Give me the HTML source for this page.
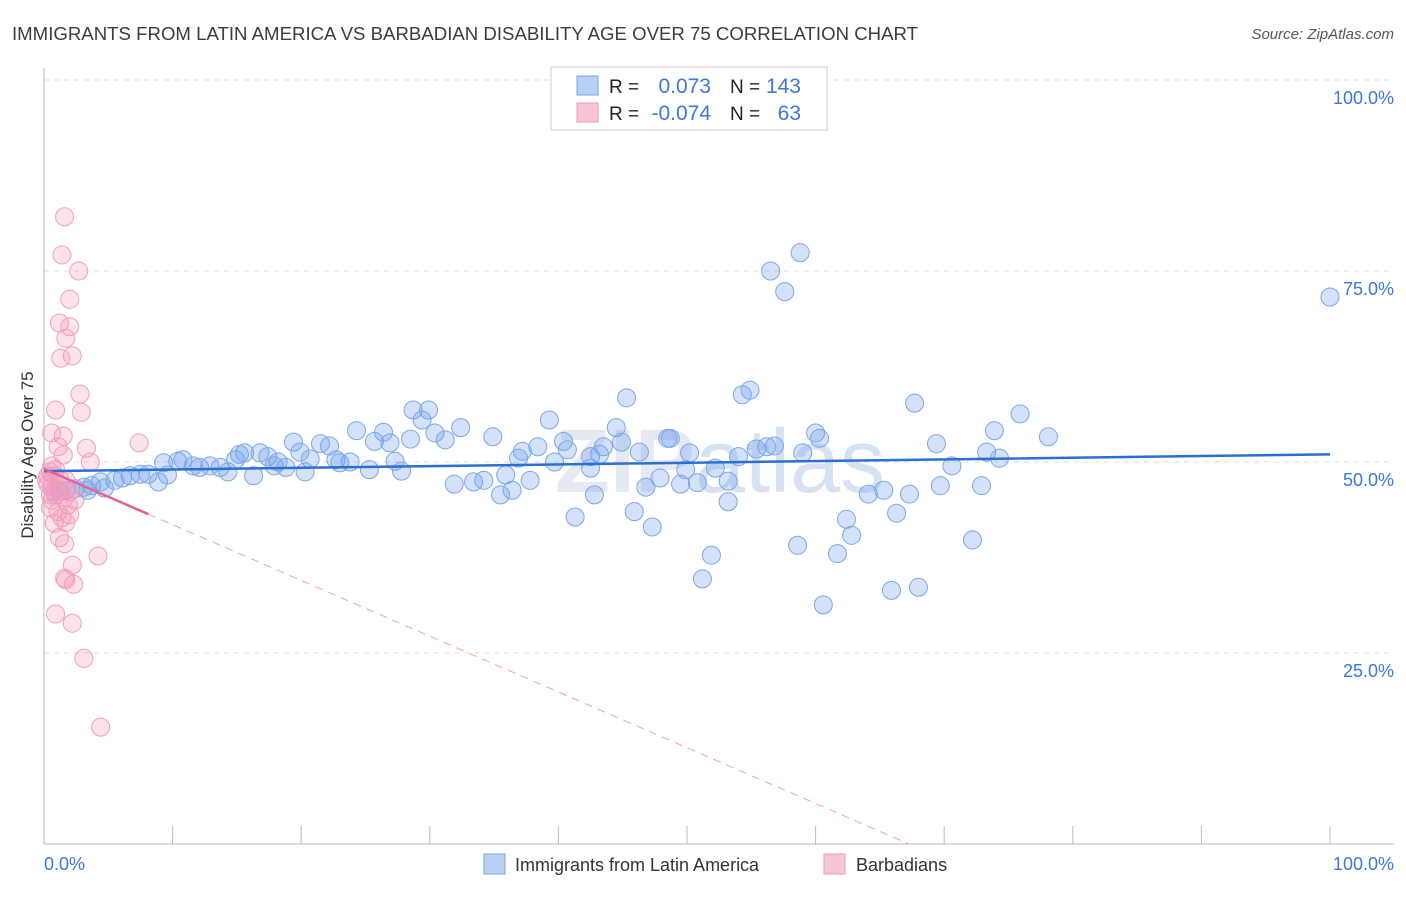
<!DOCTYPE html>
<html><head><meta charset="utf-8">
<style>
body{margin:0;background:#fff;font-family:"Liberation Sans",sans-serif;}
svg text{font-family:"Liberation Sans",sans-serif;}
</style></head>
<body>
<svg id="chart" width="1406" height="892" xmlns="http://www.w3.org/2000/svg">
<text x="12" y="40" font-size="18" fill="#3c3c3c" textLength="906" lengthAdjust="spacingAndGlyphs">IMMIGRANTS FROM LATIN AMERICA VS BARBADIAN DISABILITY AGE OVER 75 CORRELATION CHART</text>
<text x="1394" y="39" font-size="15" fill="#555" text-anchor="end" font-style="italic">Source: ZipAtlas.com</text>
<text x="720" y="492" font-size="90" fill="#e4e9f2" text-anchor="middle" font-weight="bold">ZIP<tspan font-weight="normal" fill="#d6e2f2">atlas</tspan></text>
<g id="grid"></g>
<g id="axes"></g>
<g id="pts"></g>
<g id="trends"></g>
<text transform="translate(33,455) rotate(-90)" font-size="17" fill="#333" text-anchor="middle">Disability Age Over 75</text>
<text x="44" y="870" font-size="18" fill="#3b78d8">0.0%</text>
<text x="1394" y="870" font-size="18" fill="#3b78d8" text-anchor="end">100.0%</text>
<g>
<rect x="551" y="67" width="276" height="63" fill="#fff" stroke="#ccc"/>
<rect x="577" y="76" width="21" height="19" fill="#b8d1f3" stroke="#7aa5e6"/>
<rect x="577" y="103" width="21" height="19" fill="#f7c5d4" stroke="#ee9ab4"/>
<text x="609" y="93" font-size="19" fill="#222">R =</text>
<text x="711" y="93" font-size="21" fill="#3b78d8" text-anchor="end">0.073</text>
<text x="730" y="93" font-size="19" fill="#222">N =</text>
<text x="801" y="93" font-size="21" fill="#3b78d8" text-anchor="end">143</text>
<text x="609" y="120" font-size="19" fill="#222">R =</text>
<text x="711" y="120" font-size="21" fill="#3b78d8" text-anchor="end">-0.074</text>
<text x="730" y="120" font-size="19" fill="#222">N =</text>
<text x="801" y="120" font-size="21" fill="#3b78d8" text-anchor="end">63</text>
</g>
<g>
<rect x="484" y="854" width="21" height="20" fill="#b8d1f3" stroke="#7aa5e6"/>
<text x="515" y="871" font-size="18" fill="#333">Immigrants from Latin America</text>
<rect x="824" y="854" width="21" height="20" fill="#f7c5d4" stroke="#ee9ab4"/>
<text x="856" y="871" font-size="18" fill="#333">Barbadians</text>
</g>
</svg>
<script>
const yTicks=[100,75,50,25];
const yTickLabels=["100.0%","75.0%","50.0%","25.0%"];
const xTicks=[0,10,20,30,40,50,60,70,80,90,100];
const blueX=[100,58.8,56.5,57.6,54.9,54.3,45.3,67.7,75.9,28.7,29.9,29.4,39.3,30.4,32.4,26.4,24.3,31.2,34.9,44.5,48.5,48.7,60.0,60.3,73.9,78.1,69.4,40.4,44.9,25.7,26.9,28.5,19.4,22.2,21.5,19.9,37.2,38.4,40.7,43.5,46.3,50.2,55.4,56.2,56.8,59.0,73.3,74.3,54.0,36.9,39.7,42.5,43.2,22.7,23.8,27.3,15.6,15.2,16.8,17.4,18.2,18.8,17.9,20.7,23.0,25.3,27.8,9.3,10.4,10.8,11.6,12.1,12.9,13.7,14.3,14.9,16.3,20.3,8.1,7.5,6.7,6.1,5.5,4.4,3.7,3.1,2.4,1.7,1.2,0.8,8.9,9.6,4.7,3.4,52.2,49.9,47.9,42.5,35.9,34.2,33.4,31.9,37.8,36.4,35.5,46.8,49.5,50.8,53.2,70.6,69.7,72.9,64.1,65.3,67.3,42.8,41.3,45.9,47.3,53.2,62.4,62.8,66.3,51.9,58.6,61.7,72.2,51.2,60.6,65.9,68.0];
const blueY=[71.6,77.4,75.0,72.3,59.4,58.8,58.4,57.7,56.3,56.8,56.8,55.5,55.5,53.8,54.5,53.9,54.1,52.9,53.3,54.5,53.1,53.1,53.8,53.1,54.1,53.3,52.4,52.7,52.6,52.7,52.5,53.0,52.6,52.1,52.4,51.3,51.4,52.0,51.6,52.0,51.3,51.2,51.7,52.0,52.1,51.2,51.3,50.5,50.7,50.5,50.0,50.7,51.0,50.3,50.0,50.1,51.2,51.0,51.2,50.7,50.0,49.3,49.5,50.4,49.9,49.0,48.8,49.9,50.1,50.3,49.5,49.3,49.5,49.3,48.7,50.3,48.2,48.7,48.4,48.4,48.2,47.9,47.6,47.4,46.9,46.7,46.5,46.3,46.2,46.1,47.4,48.3,46.6,46.3,49.2,49.0,47.9,49.2,48.3,47.6,47.4,47.1,47.6,46.3,45.7,46.7,47.1,47.3,47.5,49.5,46.9,46.9,45.8,46.3,45.8,45.7,42.8,43.5,41.5,44.8,42.5,40.4,43.3,37.8,39.1,38.0,39.8,34.7,31.3,33.2,33.6];
const pinkX=[1.6,1.4,2.7,2.0,1.2,2.0,1.7,2.2,1.3,2.8,0.9,2.9,0.6,1.5,7.4,1.1,3.3,1.5,3.6,0.6,0.9,0.5,0.8,1.2,1.7,0.3,0.6,1.1,1.4,2.0,0.9,2.4,1.9,0.5,1.1,2.0,1.4,0.8,1.7,1.2,1.6,4.2,2.2,2.3,1.6,1.7,0.9,2.2,3.1,4.4,0.3,0.5,1.6,0.6,0.2];
const pinkY=[82.1,77.1,75.0,71.3,68.2,67.7,66.2,63.9,63.6,58.9,56.8,56.5,53.8,53.4,52.5,52.0,51.8,50.9,50.0,49.5,49.0,48.7,48.2,47.9,47.6,47.1,46.7,46.5,46.2,46.1,45.7,45.0,44.4,44.0,43.5,43.1,42.7,42.0,42.1,40.1,39.3,37.7,36.5,34.0,34.8,34.6,30.1,28.9,24.3,15.3,48.2,45.7,45.3,45.0,47.6];
const blueTrend=[48.8,51.0];      // y at x=0 and x=100
const pinkTrend=[49.1,-0.73];     // intercept, slope
const pinkSolidEnd=8.1;
const pinkDashEnd=67.3;

const NS="http://www.w3.org/2000/svg";
const X0=44,X1=1330,Y0=844,Y100=80;
const sx=v=>X0+(X1-X0)*v/100;
const sy=v=>Y0-(Y0-Y100)*v/100;
function mk(tag,attrs,parent){const e=document.createElementNS(NS,tag);for(const k in attrs)e.setAttribute(k,attrs[k]);parent.appendChild(e);return e;}
const grid=document.getElementById('grid'),axes=document.getElementById('axes'),pts=document.getElementById('pts'),tr=document.getElementById('trends');
yTicks.forEach((t,i)=>{
  const l=mk('line',{x1:X0,x2:1394,y1:sy(t),y2:sy(t),stroke:'#ddd','stroke-dasharray':'5,5'},grid);
  
  
  const tx=mk('text',{x:1394,y:sy(t)+24,'font-size':18,fill:'#3b78d8','text-anchor':'end'},grid);
  tx.textContent=yTickLabels[i];
  
  
});
const ya=mk('line',{x1:X0,x2:X0,y1:68,y2:Y0,stroke:'#bbb'},axes);


const xa=mk('line',{x1:X0,x2:1394,y1:Y0,y2:Y0,stroke:'#bbb'},axes);


xTicks.forEach(t=>{
  const l=mk('line',{x1:sx(t),x2:sx(t),y1:826,y2:Y0,stroke:'#bbb'},axes);
  
  
});
blueX.forEach((x,i)=>{
  const c=mk('circle',{cx:sx(x),cy:sy(blueY[i]),r:9,fill:'rgba(110,160,235,0.3)',stroke:'#7aa7e6','stroke-width':1},pts);
  
  
});
pinkX.forEach((x,i)=>{
  const c=mk('circle',{cx:sx(x),cy:sy(pinkY[i]),r:9,fill:'rgba(243,150,185,0.28)',stroke:'#f0a0bc','stroke-width':1},pts);
  
  
});
const bl=mk('line',{x1:sx(0),y1:sy(blueTrend[0]),x2:sx(100),y2:sy(blueTrend[1]),stroke:'#2a6fd6','stroke-width':2.5},tr);


const pf=x=>pinkTrend[0]+pinkTrend[1]*x;
const pd=mk('line',{x1:sx(pinkSolidEnd),y1:sy(pf(pinkSolidEnd)),x2:sx(pinkDashEnd),y2:sy(pf(pinkDashEnd)),stroke:'#f0a0bb','stroke-width':1,'stroke-dasharray':'8,6'},tr);


const ps=mk('line',{x1:sx(0),y1:sy(pf(0)),x2:sx(pinkSolidEnd),y2:sy(pf(pinkSolidEnd)),stroke:'#e8608f','stroke-width':2.5},tr);


</script>
</body></html>
